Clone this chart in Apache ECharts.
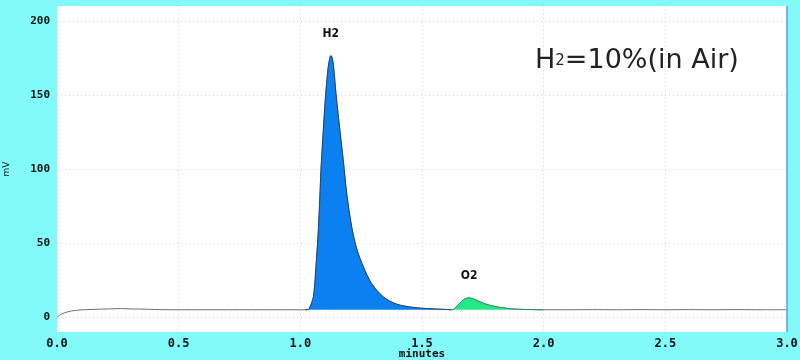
<!DOCTYPE html>
<html>
<head>
<meta charset="utf-8">
<script src="https://cdn.jsdelivr.net/npm/echarts@6/dist/echarts.min.js"></script>
<style>
html,body{margin:0;padding:0;background:#82fafa;}
#c{width:800px;height:360px;}
</style>
</head>
<body>
<div id="c"></div>
<script>
// retention time (minutes)
var times = [0,0.01,0.02,0.04,0.06,0.08,0.10,0.14,0.18,0.22,0.26,0.30,0.34,0.38,0.42,0.46,0.50,0.60,0.70,0.80,0.90,1.00,1.02,1.033,1.04,1.047,1.054,1.06,1.065,1.07,1.074,1.08,1.085,1.094,1.104,1.114,1.12,1.125,1.13,1.136,1.147,1.16,1.177,1.191,1.211,1.232,1.259,1.293,1.341,1.396,1.464,1.533,1.60,1.62,1.63,1.645,1.66,1.675,1.694,1.71,1.73,1.75,1.766,1.80,1.834,1.87,1.903,1.95,2.00,2.10,2.20,2.30,2.40,2.50,2.60,2.70,2.80,2.90,3.00];
// detector signal (mV)
var signal = [0,1.2,2.2,3.4,4.2,4.6,4.9,5.2,5.4,5.6,5.8,5.6,5.5,5.3,5.1,5.0,5.0,5.0,5.0,5.0,5.0,5.0,5.0,5.2,7,10,14,24,36,48,59,80,100,125,150,168,174,176.5,175.5,170,150,130,105,83,61,46,34,22.7,13.7,8.8,6.6,5.7,5.2,5.0,5.3,7.6,10.3,12.3,13,12.4,11,9.6,8.6,7.2,6.3,5.6,5.3,5.1,5.0,5.0,5.1,5.0,5.1,5.0,5.1,5.0,5.1,5.0,5.0];
var xTicks = [0,0.5,1.0,1.5,2.0,2.5,3.0];
var yTicks = [0,50,100,150,200];
var peakNames = ['H2','O2'];
var peakStart = [1.02,1.62];
var peakEnd = [1.62,2.00];
var peakTop = [[1.125,176.5],[1.694,13]];
var peakColors = ['#0b80f0','#25e887'];
var peakLine = ['#1b3558','#1e8a50'];

var trace = times.map(function(t,i){return [t, signal[i]];});
function segment(a,b){ return trace.filter(function(p){return p[0]>=a-1e-9 && p[0]<=b+1e-9;}); }

var lblFont = {fontFamily:'DejaVu Sans Condensed', fontWeight:'bold', fontSize:12, color:'#111'};

var series = [{
  type:'line', name:'trace', data:trace, symbol:'none', z:2, smooth:0.3,
  lineStyle:{color:'#6e6e6e', width:1},
  markLine:{silent:true, symbol:'none', label:{show:false},
    lineStyle:{color:'#4fa3e0', type:'solid', width:1.5},
    data:[{xAxis:xTicks[xTicks.length-1]}]}
}];
peakNames.forEach(function(n,k){
  series.push({
    type:'line', name:n, data:segment(peakStart[k],peakEnd[k]), symbol:'none', z:3, smooth:0.3,
    lineStyle:{color:peakLine[k], width:0.8},
    areaStyle:{color:peakColors[k], opacity:1, origin:5.0},
    markPoint:{symbol:'circle', symbolSize:0, silent:true,
      label:Object.assign({show:true, position:'top', distance:16, formatter:n}, lblFont),
      data:[{coord:peakTop[k]}]}
  });
});

var chart = echarts.init(document.getElementById('c'), null, {renderer:'canvas'});
chart.setOption({
  backgroundColor:'#82fafa',
  animation:false,
  grid:{left:57, right:13, top:6, bottom:28, show:true, backgroundColor:'#ffffff', borderWidth:0,
    containLabel:false, outerBoundsMode:'none'},
  xAxis:{type:'value', min:0, max:3, interval:0.5,
    name:'minutes', nameLocation:'middle', nameGap:17, nameMoveOverlap:false,
    nameTextStyle:{fontFamily:'DejaVu Sans Mono', fontWeight:'bold', fontSize:11, color:'#111'},
    axisLine:{show:false}, axisTick:{show:false},
    axisLabel:{fontFamily:'DejaVu Sans Mono', fontWeight:'bold', fontSize:12, color:'#111', margin:6,
      formatter:function(v){return v.toFixed(1);}},
    splitLine:{show:true, lineStyle:{color:'#dadada', type:[1,3], width:1}}
  },
  yAxis:{type:'value', min:-10, max:210,
    name:'mV', nameLocation:'middle', nameGap:46, nameRotate:90, nameMoveOverlap:false,
    nameTextStyle:{fontFamily:'DejaVu Sans', fontSize:9, color:'#111'},
    axisLine:{show:false},
    axisTick:{show:false, customValues:yTicks},
    axisLabel:{customValues:yTicks, fontFamily:'DejaVu Sans Mono', fontWeight:'bold', fontSize:11, color:'#111', margin:7},
    splitLine:{show:true, lineStyle:{color:'#dadada', type:[1,3], width:1}}
  },
  graphic:[{
    type:'text', x:535, y:61, z:10,
    style:{
      text:'{a|H}{s|2}{a|=10%(in Air)}',
      verticalAlign:'middle', align:'left',
      rich:{
        a:{fontFamily:'DejaVu Sans', fontSize:27, fill:'#222', color:'#222'},
        s:{fontFamily:'DejaVu Sans', fontSize:15, fill:'#222', color:'#222'}
      }
    }
  }],
  series:series
});
</script>
</body>
</html>
